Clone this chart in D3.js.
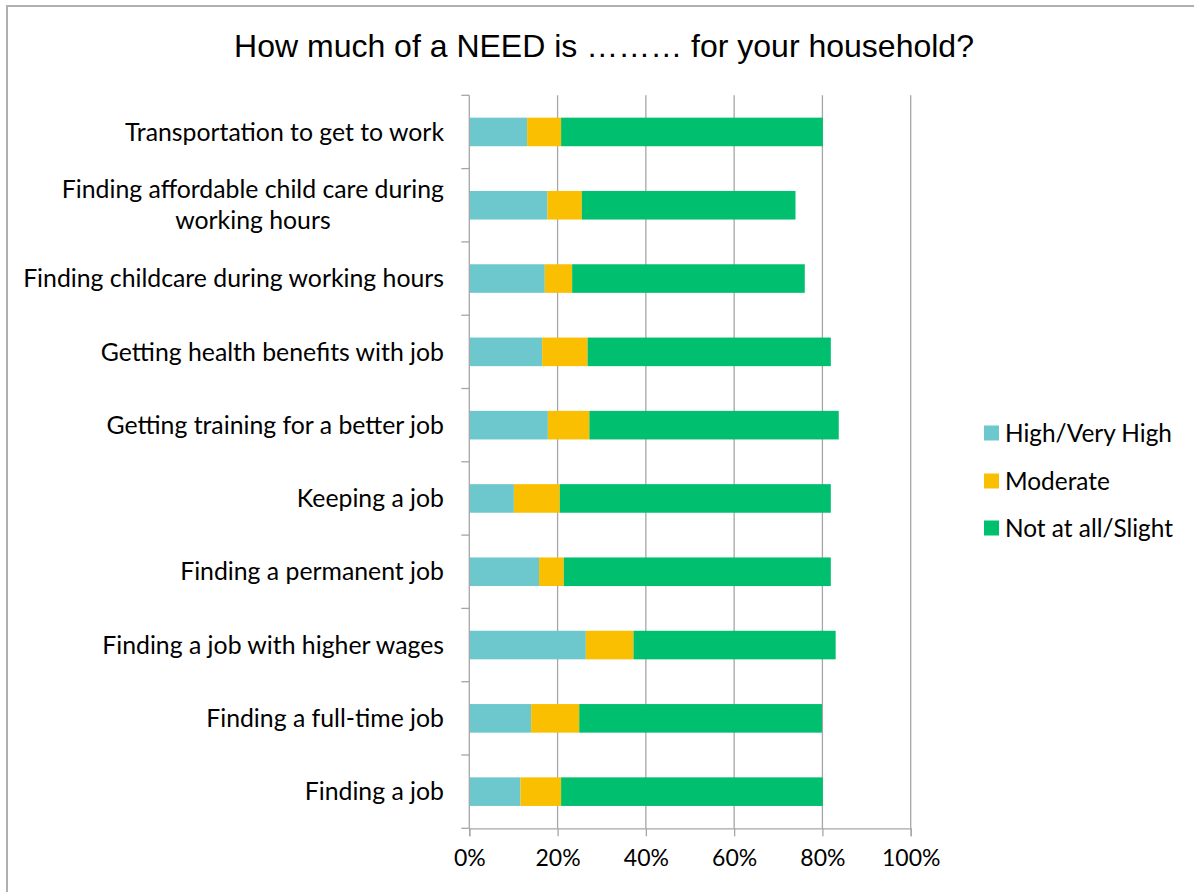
<!DOCTYPE html>
<html>
<head>
<meta charset="utf-8">
<script src="https://cdn.jsdelivr.net/npm/d3@7"></script>
<style>
  html, body { margin: 0; padding: 0; background: #fff; }
  svg { display: block; }
</style>
</head>
<body>
<svg id="chart" width="1194" height="892"></svg>
<script>
// Survey categories, top to bottom
const categories = [
  "Transportation to get to work",
  "Finding affordable child care during working hours",
  "Finding childcare during working hours",
  "Getting health benefits with job",
  "Getting training for a better job",
  "Keeping a job",
  "Finding a permanent job",
  "Finding a job with higher wages",
  "Finding a full-time job",
  "Finding a job"
];

// Share of households (%) per need level
const highVeryHigh = [13.1, 17.7, 17.1, 16.5, 17.8, 10.1, 15.8, 26.4, 14.0, 11.6];
const moderate     = [ 7.7,  7.8,  6.2, 10.3,  9.4, 10.4,  5.6, 10.8, 10.9,  9.2];
const notAtAll     = [59.3, 48.4, 52.7, 55.1, 56.5, 61.4, 60.5, 45.8, 55.0, 59.3];

const seriesNames = ["High/Very High", "Moderate", "Not at all/Slight"];
const seriesColors = ["#6cc8cd", "#f9bf00", "#00bf6f"];
const xTicks = [0, 20, 40, 60, 80, 100];

const labelFont = "Lato, 'Open Sans', sans-serif";

const svg = d3.select("#chart");

// Outer chart frame
svg.append("rect")
  .attr("x", 7).attr("y", 6)
  .attr("width", 1200).attr("height", 900)
  .attr("fill", "#fff")
  .attr("stroke", "#b0b0b0").attr("stroke-width", 2);

// Title
svg.append("text")
  .attr("x", 604).attr("y", 57)
  .attr("text-anchor", "middle")
  .attr("font-family", "'Liberation Sans', Arial, sans-serif")
  .attr("font-size", 32)
  .attr("fill", "#000")
  .text("How much of a NEED is \u2026\u2026\u2026 for your household?");

const plot = { left: 469.3, right: 910.7, top: 95.3, bottom: 828.3 };

const x = d3.scaleLinear().domain([0, 100]).range([plot.left, plot.right]);
const y = d3.scaleBand().domain(categories).range([plot.top, plot.bottom]).paddingInner(0.61).paddingOuter(0.305);

// Vertical gridlines
svg.append("g")
  .selectAll("line")
  .data(xTicks.slice(1))
  .join("line")
  .attr("x1", d => x(d)).attr("x2", d => x(d))
  .attr("y1", plot.top).attr("y2", plot.bottom)
  .attr("stroke", "#a6a6a6").attr("stroke-width", 1.3);

// Stacked bars
const rows = categories.map((c, i) => ({
  category: c,
  "High/Very High": highVeryHigh[i],
  "Moderate": moderate[i],
  "Not at all/Slight": notAtAll[i]
}));
const stacked = d3.stack().keys(seriesNames)(rows);

svg.append("g")
  .selectAll("g")
  .data(stacked)
  .join("g")
  .attr("fill", (d, i) => seriesColors[i])
  .selectAll("rect")
  .data(d => d)
  .join("rect")
  .attr("x", d => x(d[0]))
  .attr("width", d => x(d[1]) - x(d[0]))
  .attr("y", d => y(d.data.category))
  .attr("height", y.bandwidth());

// Category axis (left)
const yAxisTicks = d3.range(categories.length + 1).map(i => plot.top + i * (plot.bottom - plot.top) / categories.length);
const axisG = svg.append("g").attr("stroke", "#a6a6a6").attr("stroke-width", 1.3);
axisG.append("line")
  .attr("x1", plot.left).attr("x2", plot.left)
  .attr("y1", plot.top).attr("y2", plot.bottom);
axisG.selectAll("line.ytick")
  .data(yAxisTicks)
  .join("line").attr("class", "ytick")
  .attr("x1", plot.left - 8).attr("x2", plot.left)
  .attr("y1", d => d).attr("y2", d => d);

// Value axis (bottom)
const xAxis = d3.axisBottom(x)
  .tickValues(xTicks)
  .tickFormat(d => d + "%")
  .tickSize(8)
  .tickPadding(13);
const xg = svg.append("g")
  .attr("transform", `translate(0,${plot.bottom})`)
  .call(xAxis);
xg.select(".domain").attr("stroke", "#a6a6a6").attr("stroke-width", 1.3);
xg.selectAll(".tick line").attr("stroke", "#a6a6a6").attr("stroke-width", 1.3);
xg.selectAll(".tick text")
  .attr("font-family", labelFont)
  .attr("font-size", 23)
  .attr("fill", "#000");

// Category labels, wrapping the long one onto two centred lines
const wrapped = {
  "Finding affordable child care during working hours": ["Finding affordable child care during", "working hours"]
};
const labels = svg.append("g")
  .attr("font-family", labelFont)
  .attr("font-size", 24.8)
  .attr("fill", "#000");

categories.forEach(c => {
  const cy = y(c) + y.bandwidth() / 2;
  const lines = wrapped[c] || [c];
  const lineH = 31;
  const t = labels.append("text").attr("text-anchor", "end");
  lines.forEach((ln, k) => {
    t.append("tspan")
      .attr("x", 444)
      .attr("y", cy + (k - (lines.length - 1) / 2) * lineH)
      .attr("dy", "0.35em")
      .text(ln);
  });
  if (lines.length > 1) {
    // centre the shorter lines under the widest one
    const spans = t.selectAll("tspan").nodes();
    const widths = spans.map(s => s.getComputedTextLength());
    const maxW = d3.max(widths);
    spans.forEach((s, k) => {
      d3.select(s).attr("x", 444 - (maxW - widths[k]) / 2);
    });
  }
});

// Legend
const legend = svg.append("g")
  .attr("font-family", labelFont)
  .attr("font-size", 24.4);
const legendY = [433, 481, 528];
seriesNames.forEach((name, i) => {
  legend.append("rect")
    .attr("x", 984).attr("y", legendY[i] - 7.5)
    .attr("width", 15).attr("height", 15)
    .attr("fill", seriesColors[i]);
  legend.append("text")
    .attr("x", 1005).attr("y", legendY[i])
    .attr("dy", "0.35em")
    .attr("fill", "#000")
    .text(name);
});
</script>
</body>
</html>
